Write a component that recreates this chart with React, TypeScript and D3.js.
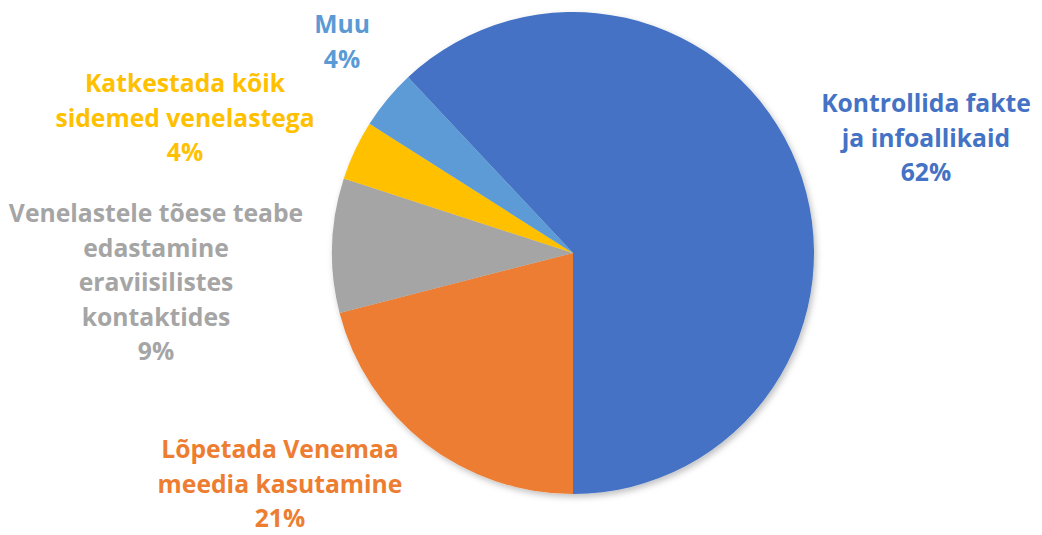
import React, { useEffect, useRef } from "react";
import * as d3 from "d3";

const categories = [
  "Kontrollida fakte ja infoallikaid",
  "Lõpetada Venemaa meedia kasutamine",
  "Venelastele tõese teabe edastamine eraviisilistes kontaktides",
  "Katkestada kõik sidemed venelastega",
  "Muu",
];
const values = [62, 21, 9, 4, 4];
const labelLines = [
  ["Kontrollida fakte", "ja infoallikaid"],
  ["Lõpetada Venemaa", "meedia kasutamine"],
  ["Venelastele tõese teabe", "edastamine", "eraviisilistes", "kontaktides"],
  ["Katkestada kõik", "sidemed venelastega"],
  ["Muu"],
];
const colors = ["#4472C4", "#ED7D31", "#A5A5A5", "#FFC000", "#5B9BD5"];

// label anchor positions (center x, first baseline y)
const labelPos: [number, number][] = [
  [926, 112],
  [280, 458],
  [156, 222],
  [185, 92],
  [342, 33],
];

const W = 1042;
const H = 535;
const CX = 573;
const CY = 253;
const R = 241;
const LINE = 34.5;

export default function App() {
  const ref = useRef<SVGSVGElement>(null);
  useEffect(() => {
    const svg = d3.select(ref.current);
    svg.selectAll("*").remove();
    const defs = svg.append("defs");
    const f = defs
      .append("filter")
      .attr("id", "shadow")
      .attr("x", "-10%")
      .attr("y", "-10%")
      .attr("width", "120%")
      .attr("height", "120%");
    f.append("feDropShadow")
      .attr("dx", 2)
      .attr("dy", 3)
      .attr("stdDeviation", 3)
      .attr("flood-color", "#000")
      .attr("flood-opacity", 0.25);

    const total = d3.sum(values);
    const start = Math.PI - (values[0] / total) * 2 * Math.PI;
    const pie = d3
      .pie<number>()
      .sort(null)
      .value((d) => d)
      .startAngle(start)
      .endAngle(start + 2 * Math.PI);
    const arcs = pie(values);
    const arc = d3.arc<d3.PieArcDatum<number>>().innerRadius(0).outerRadius(R);

    const g = svg.append("g").attr("transform", `translate(${CX},${CY})`);
    const pg = g.append("g").attr("filter", "url(#shadow)");
    pg.selectAll("path")
      .data(arcs)
      .join("path")
      .attr("d", arc)
      .attr("fill", (_d, i) => colors[i]);

    const lg = svg.append("g");
    values.forEach((v, i) => {
      const lines = [...labelLines[i], `${d3.format(".0f")((v / total) * 100)}%`];
      const t = lg
        .append("text")
        .attr("x", labelPos[i][0])
        .attr("y", labelPos[i][1])
        .attr("text-anchor", "middle")
        .attr("fill", colors[i])
        .attr("font-family", "'Open Sans', sans-serif")
        .attr("font-weight", 700)
        .attr("font-size", 24.7);
      lines.forEach((ln, j) => {
        t.append("tspan")
          .attr("x", labelPos[i][0])
          .attr("y", labelPos[i][1] + j * LINE)
          .text(ln);
      });
    });
  }, []);
  return (
    <svg
      ref={ref}
      width={W}
      height={H}
      style={{ position: "absolute", left: 0, top: 0, background: "#fff" }}
    />
  );
}
